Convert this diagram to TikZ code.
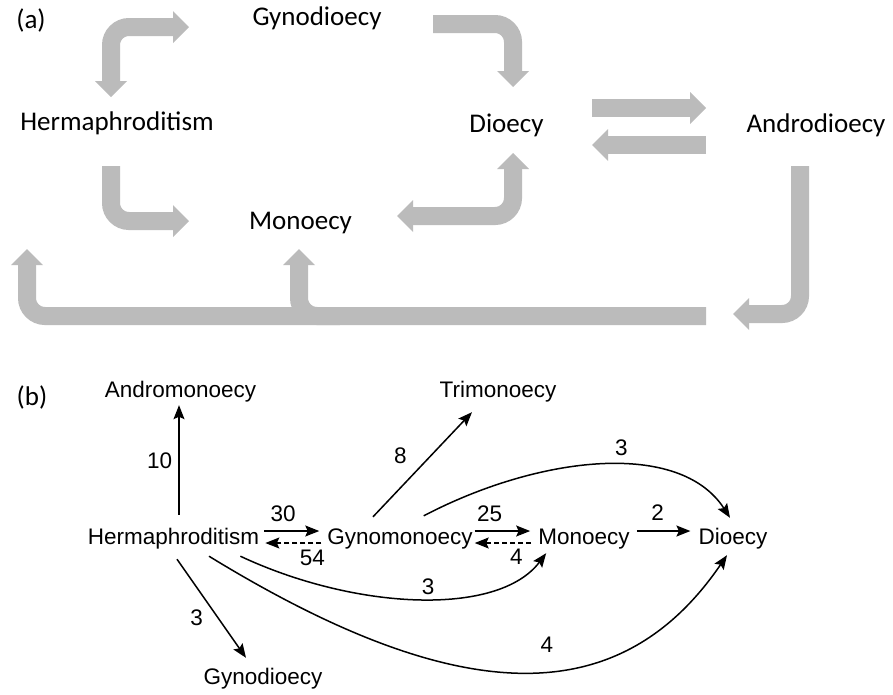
\documentclass[tikz,border=0pt]{standalone}
\usepackage{fontspec}
\newfontfamily\calib{Carlito}
\newfontfamily\helv{Liberation Sans}
\usetikzlibrary{arrows.meta,calc}
\definecolor{arrgray}{RGB}{187,187,187}
\tikzset{
  gtip/.tip={Triangle[length=16pt,width=32pt,line width=0pt]},
  btip/.tip={Stealth[length=14pt,width=11pt,inset=2.5pt]},
  atext/.style={font=\calib\fontsize{27}{32}\selectfont, inner sep=0pt, anchor=base},
  btext/.style={font=\helv\fontsize{22.5}{27}\selectfont, inner sep=0pt, anchor=base, text height=16pt, text depth=5pt},
  blbl/.style={font=\helv\fontsize{22.5}{27}\selectfont, inner sep=0pt, text height=16pt, text depth=0pt},
  garrow/.style={draw=arrgray, line width=18pt, rounded corners=18pt, -gtip},
  gboth/.style={draw=arrgray, line width=18pt, rounded corners=18pt, gtip-gtip},
  barrow/.style={draw=black, line width=1.5pt, -btip},
  bdash/.style={barrow, dash pattern=on 5pt off 3pt}
}
\begin{document}
\begin{tikzpicture}[x=1pt,y=-1pt]
\useasboundingbox (0,0) rectangle (893,694);
% ---------- (a) ----------
\node[atext] (la) at (31,28) {(a)};
\node[atext] (gA) at (317,25) {Gynodioecy};
\node[atext] (hA) at (117,130) {Hermaphroditism};
\node[atext] (mA) at (300.5,229) {Monoecy};
\node[atext] (dA) at (506.5,132) {Dioecy};
\node[atext] (aA) at (816,132) {Androdioecy};

\draw[gboth] ($(hA.base)+(-6,-33)$) |- ($(gA.base)+(-128,2)$);
\draw[garrow] ($(gA.base)+(116,-1)$) -| ($(dA.base)+(6.5,-45)$);
\draw[garrow] ($(dA.base)+(85.5,-24)$) -- ($(aA.base)+(-110,-24)$);
\draw[garrow] ($(aA.base)+(-110,13)$) -- ($(dA.base)+(85.5,13)$);
\draw[garrow] ($(hA.base)+(-6,36)$) |- ($(mA.base)+(-111.5,-8)$);
\draw[gboth] ($(mA.base)+(96.5,-13)$) -| ($(dA.base)+(6.5,21)$);
\draw[garrow] ($(aA.base)+(-16,34)$) |- ($(aA.base)+(-83,182)$);
\draw[garrow] ($(aA.base)+(-110,184)$) -| ($(hA.base)+(-90,119)$);
\draw[garrow] ($(mA.base)+(39.5,87)$) -| ($(mA.base)+(-1.5,20)$);

% ---------- (b) ----------
\node[atext] (lb) at (32,405) {(b)};
\node[btext] (andro) at (180.5,397) {Andromonoecy};
\node[btext] (herm) at (173.5,544) {Hermaphroditism};
\node[btext] (gynomon) at (400,544) {Gynomonoecy};
\node[btext] (mono) at (584,544) {Monoecy};
\node[btext] (dio) at (733,544) {Dioecy};
\node[btext] (tri) at (498,397) {Trimonoecy};
\node[btext] (gynodi) at (263,684) {Gynodioecy};

\draw[barrow] ($(herm.north)+(5.5,-13)$) -- ($(andro.south)+(-1.5,3)$)
  node[blbl,midway,left=6pt]{10};
\draw[barrow] ($(herm.east)+(5,-7.5)$) -- ($(gynomon.west)+(-8,-7.5)$)
  node[blbl,pos=0.34,above=9pt]{30};
\draw[bdash] ($(gynomon.west)+(-6,4.5)$) -- ($(herm.east)+(6,4.5)$)
  node[blbl,pos=0.16,below=6pt]{54};
\draw[barrow] ($(gynomon.north)+(-27,-11)$) -- ($(tri.south)+(-26,10)$)
  node[blbl,pos=0.59,left=24pt]{8};
\draw[barrow] ($(gynomon.north east)+(-49,-12)$) .. controls (540,455) and (680,440) .. ($(dio.north)+(-3,-10)$)
  node[blbl,pos=0.56,above=9pt]{3};
\draw[barrow] ($(gynomon.east)+(2,-7.5)$) -- ($(mono.west)+(-8,-7.5)$)
  node[blbl,pos=0.27,above=9pt]{25};
\draw[bdash] ($(mono.west)+(-7,4.5)$) -- ($(gynomon.east)+(2,4.5)$)
  node[blbl,pos=0.26,below=5pt]{4};
\draw[barrow] ($(mono.east)+(7,-7.5)$) -- ($(dio.west)+(-8,-7.5)$)
  node[blbl,pos=0.39,above=10pt]{2};
\draw[barrow] ($(herm.south east)+(-19,7)$) .. controls (355,610) and (498,617) .. ($(mono.south west)+(8,4)$)
  node[blbl,pos=0.53,above=3pt]{3};
\draw[barrow] ($(herm.south)+(35.5,7)$) .. controls (460,710) and (620,712) .. ($(dio.south)+(-6,6)$)
  node[blbl,pos=0.55,above=18pt]{4};
\draw[barrow] ($(herm.south)+(3.5,10)$) -- ($(gynodi.north)+(-17,-10)$)
  node[blbl,pos=0.59,left=14pt]{3};
\end{tikzpicture}
\end{document}
